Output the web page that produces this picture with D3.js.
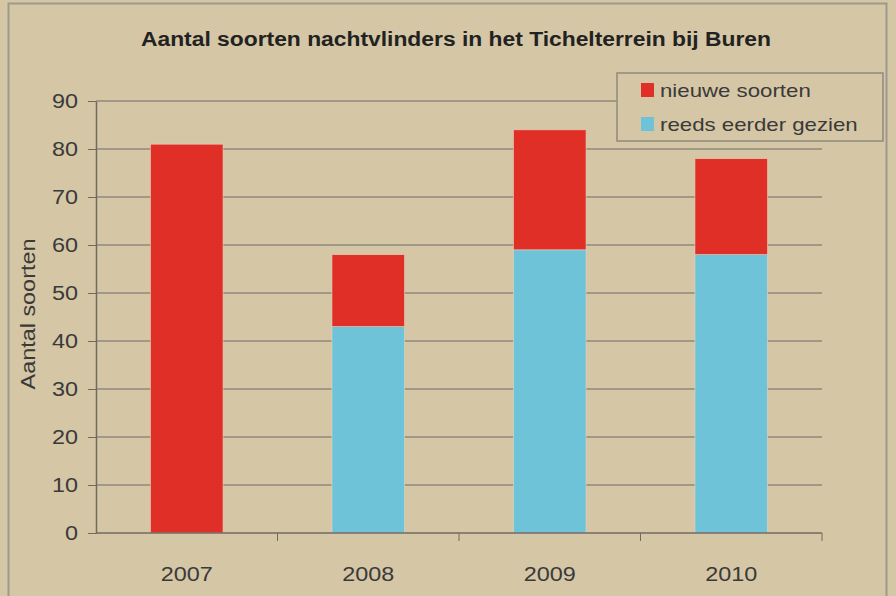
<!DOCTYPE html>
<html>
<head>
<meta charset="utf-8">
<script src="https://cdn.jsdelivr.net/npm/d3@7"></script>
<style>
  body { margin: 0; background: #d5c6a5; }
  svg { display: block; font-family: "Liberation Sans", Arial, sans-serif; }
</style>
</head>
<body>
<div id="chart"></div>
<script>
// data
var years = ["2007", "2008", "2009", "2010"];
var reedsEerder = [0, 43, 59, 58];   // reeds eerder gezien
var nieuwe = [81, 15, 25, 20];        // nieuwe soorten
var seriesNames = ["nieuwe soorten", "reeds eerder gezien"];
var seriesColors = ["#e02f27", "#6ec3d9"];
var yTicks = [0, 10, 20, 30, 40, 50, 60, 70, 80, 90];

var W = 896, H = 596;
var margin = { top: 101, right: 74, bottom: 63, left: 96 },
    width = W - margin.left - margin.right,
    height = H - margin.top - margin.bottom;

// the original picture is a bit wider than tall, text looks stretched
var stretch = 1.17;
function widen(sel) {
    sel.each(function () {
        var w = this.getComputedTextLength();
        d3.select(this)
            .attr("textLength", w * stretch)
            .attr("lengthAdjust", "spacingAndGlyphs");
    });
}

var rows = years.map(function (y, i) {
    return { year: y, reeds: reedsEerder[i], nieuw: nieuwe[i] };
});
var stack = d3.stack().keys(["reeds", "nieuw"])(rows);

var svg0 = d3.select("#chart").append("svg")
    .attr("width", W)
    .attr("height", H);

// outer frame
svg0.append("rect")
    .attr("x", 0).attr("y", 0).attr("width", W).attr("height", H)
    .style("fill", "#d5c6a5");
svg0.append("rect")
    .attr("x", 8.5).attr("y", 3.5).attr("width", 878).attr("height", 600)
    .style("fill", "none")
    .style("stroke", "#9e998f")
    .style("stroke-width", 2);

svg0.append("text")
    .attr("x", 456)
    .attr("y", 46)
    .attr("textLength", 630)
    .attr("lengthAdjust", "spacingAndGlyphs")
    .style("font-size", "20px")
    .style("font-weight", "bold")
    .style("fill", "#222")
    .style("text-anchor", "middle")
    .text("Aantal soorten nachtvlinders in het Tichelterrein bij Buren");

var svg = svg0.append("g")
    .attr("transform", "translate(" + margin.left + "," + margin.top + ")");

var x = d3.scaleBand()
    .domain(years)
    .range([0, width])
    .paddingInner(0.6)
    .paddingOuter(0.3);

var y = d3.scaleLinear()
    .domain([0, 90])
    .range([height, 0]);

// gridlines
svg.append("g")
    .attr("class", "grid")
    .selectAll("line")
    .data(yTicks.slice(1))
    .enter().append("line")
    .attr("x1", 0)
    .attr("x2", width)
    .attr("y1", function (d) { return y(d); })
    .attr("y2", function (d) { return y(d); })
    .style("stroke", "#8f8a7e")
    .style("stroke-width", 1.5);

// bars
var layer = svg.selectAll(".layer")
    .data(stack)
    .enter().append("g")
    .attr("class", "layer")
    .style("fill", function (d, i) { return seriesColors[1 - i]; });

layer.selectAll("rect")
    .data(function (d) { return d; })
    .enter().append("rect")
    .attr("x", function (d) { return x(d.data.year); })
    .attr("width", x.bandwidth())
    .attr("y", function (d) { return y(d[1]); })
    .attr("height", function (d) { return y(d[0]) - y(d[1]); })
    .style("stroke", "#e8d9c0")
    .style("stroke-width", 0.8)
    .style("stroke-opacity", function (d) { return d[1] > d[0] ? 0.7 : 0; });

// y axis
var yAxis = d3.axisLeft(y).tickValues(yTicks).tickSizeInner(8).tickSizeOuter(0).tickPadding(10);
var gy = svg.append("g").call(yAxis);
gy.select(".domain").style("stroke", "#6f6a62").style("stroke-width", 1.5);
gy.selectAll(".tick line").style("stroke", "#6f6a62");
gy.selectAll("text")
    .style("font-family", "Liberation Sans, Arial, sans-serif")
    .style("font-size", "20px").style("fill", "#3a3a3a")
    .call(widen);

// x axis
var xAxis = d3.axisBottom(x).tickSize(0).tickPadding(34);
var gx = svg.append("g")
    .attr("transform", "translate(0," + height + ")")
    .call(xAxis);
gx.select(".domain").remove();
gx.selectAll("text")
    .style("font-family", "Liberation Sans, Arial, sans-serif")
    .style("font-size", "20px").style("fill", "#3a3a3a")
    .call(widen);
gx.append("line")
    .attr("x1", 0).attr("x2", width)
    .style("stroke", "#6f6a62").style("stroke-width", 1.5);
gx.selectAll(".sep")
    .data(years)
    .enter().append("line")
    .attr("class", "sep")
    .attr("x1", function (d) { return x(d) + x.bandwidth() + x.step() * x.paddingInner() / 2; })
    .attr("x2", function (d) { return x(d) + x.bandwidth() + x.step() * x.paddingInner() / 2; })
    .attr("y1", 0).attr("y2", 8)
    .style("stroke", "#6f6a62");

svg.append("text")
    .attr("transform", "translate(" + (-61) + "," + (height / 2 - 3) + ") rotate(-90)")
    .style("font-size", "20px")
    .style("fill", "#3a3a3a")
    .style("text-anchor", "middle")
    .text("Aantal soorten")
    .call(widen);

// legend
var legend = svg0.append("g").attr("transform", "translate(617,73)");
legend.append("rect")
    .attr("width", 266).attr("height", 68)
    .style("fill", "#d5c6a5")
    .style("stroke", "#8f8a7e")
    .style("stroke-width", 1.5);
var item = legend.selectAll(".item")
    .data(seriesNames)
    .enter().append("g")
    .attr("class", "item")
    .attr("transform", function (d, i) { return "translate(24," + (10 + i * 34) + ")"; });
item.append("rect")
    .attr("width", 13).attr("height", 14)
    .style("fill", function (d, i) { return seriesColors[i]; });
item.append("text")
    .attr("x", 19).attr("y", 14)
    .style("font-size", "19px")
    .style("fill", "#3a3a3a")
    .text(function (d) { return d; })
    .call(widen);
</script>
</body>
</html>
